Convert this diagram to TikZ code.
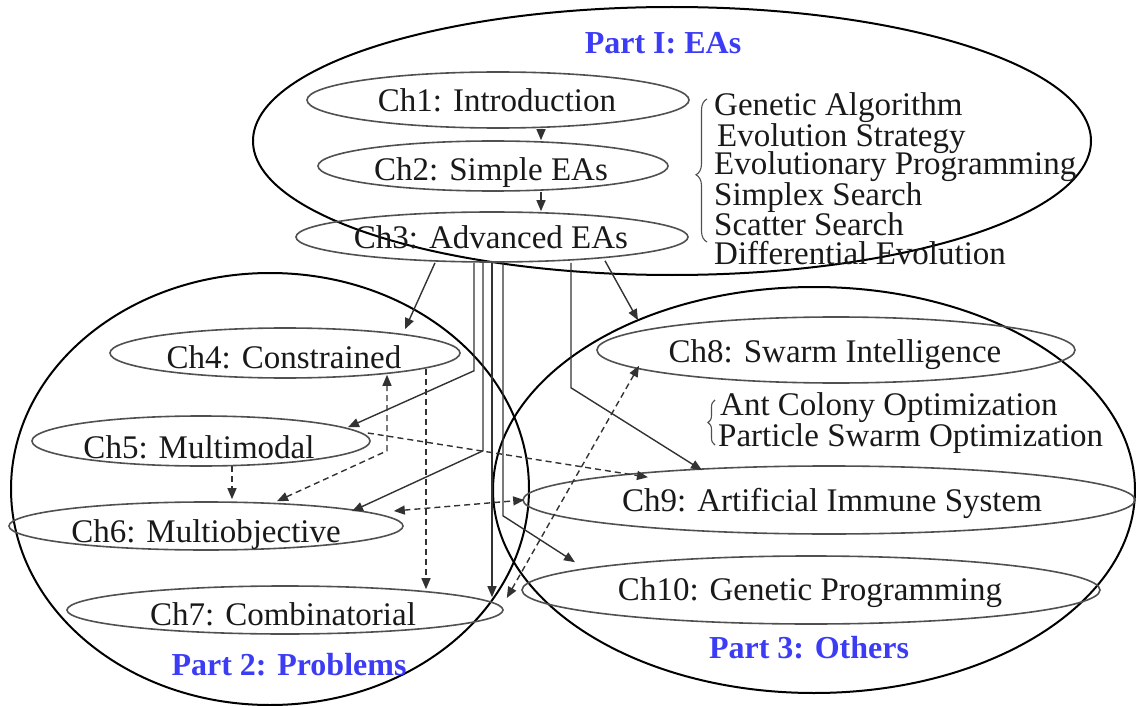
\documentclass[tikz,border=0pt]{standalone}
\usepackage{fontspec}
\setmainfont{Liberation Serif}
\usetikzlibrary{shapes.geometric,arrows.meta,decorations.pathreplacing}
\definecolor{chgray}{RGB}{80,80,80}
\definecolor{linkgray}{RGB}{50,50,50}
\definecolor{partblue}{RGB}{60,60,245}
\tikzset{
  chap/.style={draw=chgray, line width=1.6pt, ellipse, inner sep=0pt},
  partell/.style={draw=black, line width=2pt, ellipse, inner sep=0pt},
  txt/.style={font=\fontsize{33}{36}\selectfont, inner sep=0pt, anchor=base, text=black!90},
  item/.style={font=\fontsize{33}{36}\selectfont, inner sep=0pt, anchor=base west, text=black!90},
  ptitle/.style={font=\fontsize{32}{36}\selectfont\bfseries, text=partblue, inner sep=0pt, anchor=base},
  >={Triangle[length=11pt,width=9pt]},
  link/.style={draw=linkgray, line width=1.4pt, ->},
  dlink/.style={link, dash pattern=on 6pt off 4pt},
  bracestyle/.style={draw=chgray, line width=1.1pt, decorate},
}
\begin{document}
\begin{tikzpicture}[x=1pt,y=-1pt]
\useasboundingbox (0,0) rectangle (1136,706);

% part ellipses
\node[partell, minimum width=838pt, minimum height=268pt] (p1) at (672,141) {};
\node[partell, minimum width=518pt, minimum height=432pt] (p2) at (270,489) {};
\node[partell, minimum width=642pt, minimum height=406pt] (p3) at (814,490) {};

% chapter ellipses
\node[chap, minimum width=382pt, minimum height=56pt] (c1) at (498,100) {};
\node[chap, minimum width=350pt, minimum height=50pt] (c2) at (493,166) {};
\node[chap, minimum width=392pt, minimum height=50pt] (c3) at (492,237) {};
\node[chap, minimum width=350pt, minimum height=50pt] (c4) at (285,353) {};
\node[chap, minimum width=338pt, minimum height=50pt] (c5) at (201,441) {};
\node[chap, minimum width=394pt, minimum height=48pt] (c6) at (206,526) {};
\node[chap, minimum width=436pt, minimum height=48pt] (c7) at (285,610) {};
\node[chap, minimum width=478pt, minimum height=66pt] (c8) at (836,350) {};
\node[chap, minimum width=612pt, minimum height=68pt] (c9) at (829,500) {};
\node[chap, minimum width=578pt, minimum height=68pt] (c10) at (811,590) {};

% chapter texts
\node[txt] (t1) at (497,112) {Ch1: Introduction};
\node[txt] (t2) at (491,181) {Ch2: Simple EAs};
\node[txt] (t3) at (491,248) {Ch3: Advanced EAs};
\node[txt] (t4) at (284,368) {Ch4: Constrained};
\node[txt] (t5) at (199,458) {Ch5: Multimodal};
\node[txt] (t6) at (206,542) {Ch6: Multiobjective};
\node[txt] (t7) at (283,625) {Ch7: Combinatorial};
\node[txt] (t8) at (835,362) {Ch8: Swarm Intelligence};
\node[txt] (t9) at (832,511) {Ch9: Artificial Immune System};
\node[txt] (t10) at (810,600) {Ch10: Genetic Programming};

% part titles
\node[ptitle] (l1) at (663,54) {Part I: EAs};
\node[ptitle] (l2) at (289,675) {Part 2: Problems};
\node[ptitle] (l3) at (809,658) {Part 3: Others};

% method lists
\node[item] (g1) at (714,116) {Genetic Algorithm};
\node[item] (g2) at (717,147) {Evolution Strategy};
\node[item] (g3) at (714,175) {Evolutionary Programming};
\node[item] (g4) at (714,205) {Simplex Search};
\node[item] (g5) at (714,235) {Scatter Search};
\node[item] (g6) at (714,264) {Differential Evolution};
\draw[bracestyle, decoration={brace, amplitude=11pt, aspect=0.47}]
  ([shift={(-7,7)}]g5.base west) -- ([shift={(-7,-17)}]g1.base west);

\node[item] (a1) at (720,415) {Ant Colony Optimization};
\node[item] (a2) at (718,446) {Particle Swarm Optimization};
\draw[bracestyle, decoration={brace, amplitude=7pt, aspect=0.5}]
  ([shift={(-3,-1)}]a2.base west) -- ([shift={(-5,-15)}]a1.base west);

% solid connectors
\draw[link] ([shift={(43,0)}]c1.south) -- ([shift={(48,0)}]c2.north);
\draw[link] ([shift={(48,0)}]c2.south) -- ([shift={(49,0)}]c3.north);
\draw[link] ([shift={(-57,0)}]c3.south) -- ([shift={(120,2)}]c4.north);
\draw[link] ([shift={(113,-2)}]c3.south) -- ([shift={(-198,4)}]c8.north);
\draw[link] ([shift={(79,0)}]c3.south) -- ++(0,125) -- ([shift={(-127,5)}]c9.north);
\draw[link] ([shift={(-18,0)}]c3.south) -- ++(0,108) -- ([shift={(147,12)}]c5.north);
\draw[link] ([shift={(-9,0)}]c3.south) -- ++(0,188) -- ([shift={(146,10)}]c6.north);
\draw[link] (c3.south) -- ([shift={(207,12)}]c7.north);
\draw[link] ([shift={(11,0)}]c3.south) -- ++(0,253) -- ([shift={(-236,7)}]c10.north);

% dashed connectors
\draw[dlink] ([shift={(141,-10)}]c4.south) -- ([shift={(141,4)}]c7.north);
\draw[dlink] ([shift={(31,-1)}]c5.south) -- ([shift={(26,-2)}]c6.north);
\draw[dlink,<->] ([shift={(71,0)}]c6.north) -- ([shift={(102,72)}]c4.south) -- ([shift={(102,-4)}]c4.south);
\draw[dlink] ([shift={(-3,-8)}]c5.east) -- ([shift={(-181,12)}]c9.north);
\draw[dlink,<->] ([shift={(-10,-15)}]c6.east) -- ([shift={(2,0)}]c9.west);
\draw[dlink,<->] ([shift={(3,-12)}]c7.east) -- ([shift={(-197,-18)}]c8.south);
\end{tikzpicture}
\end{document}
